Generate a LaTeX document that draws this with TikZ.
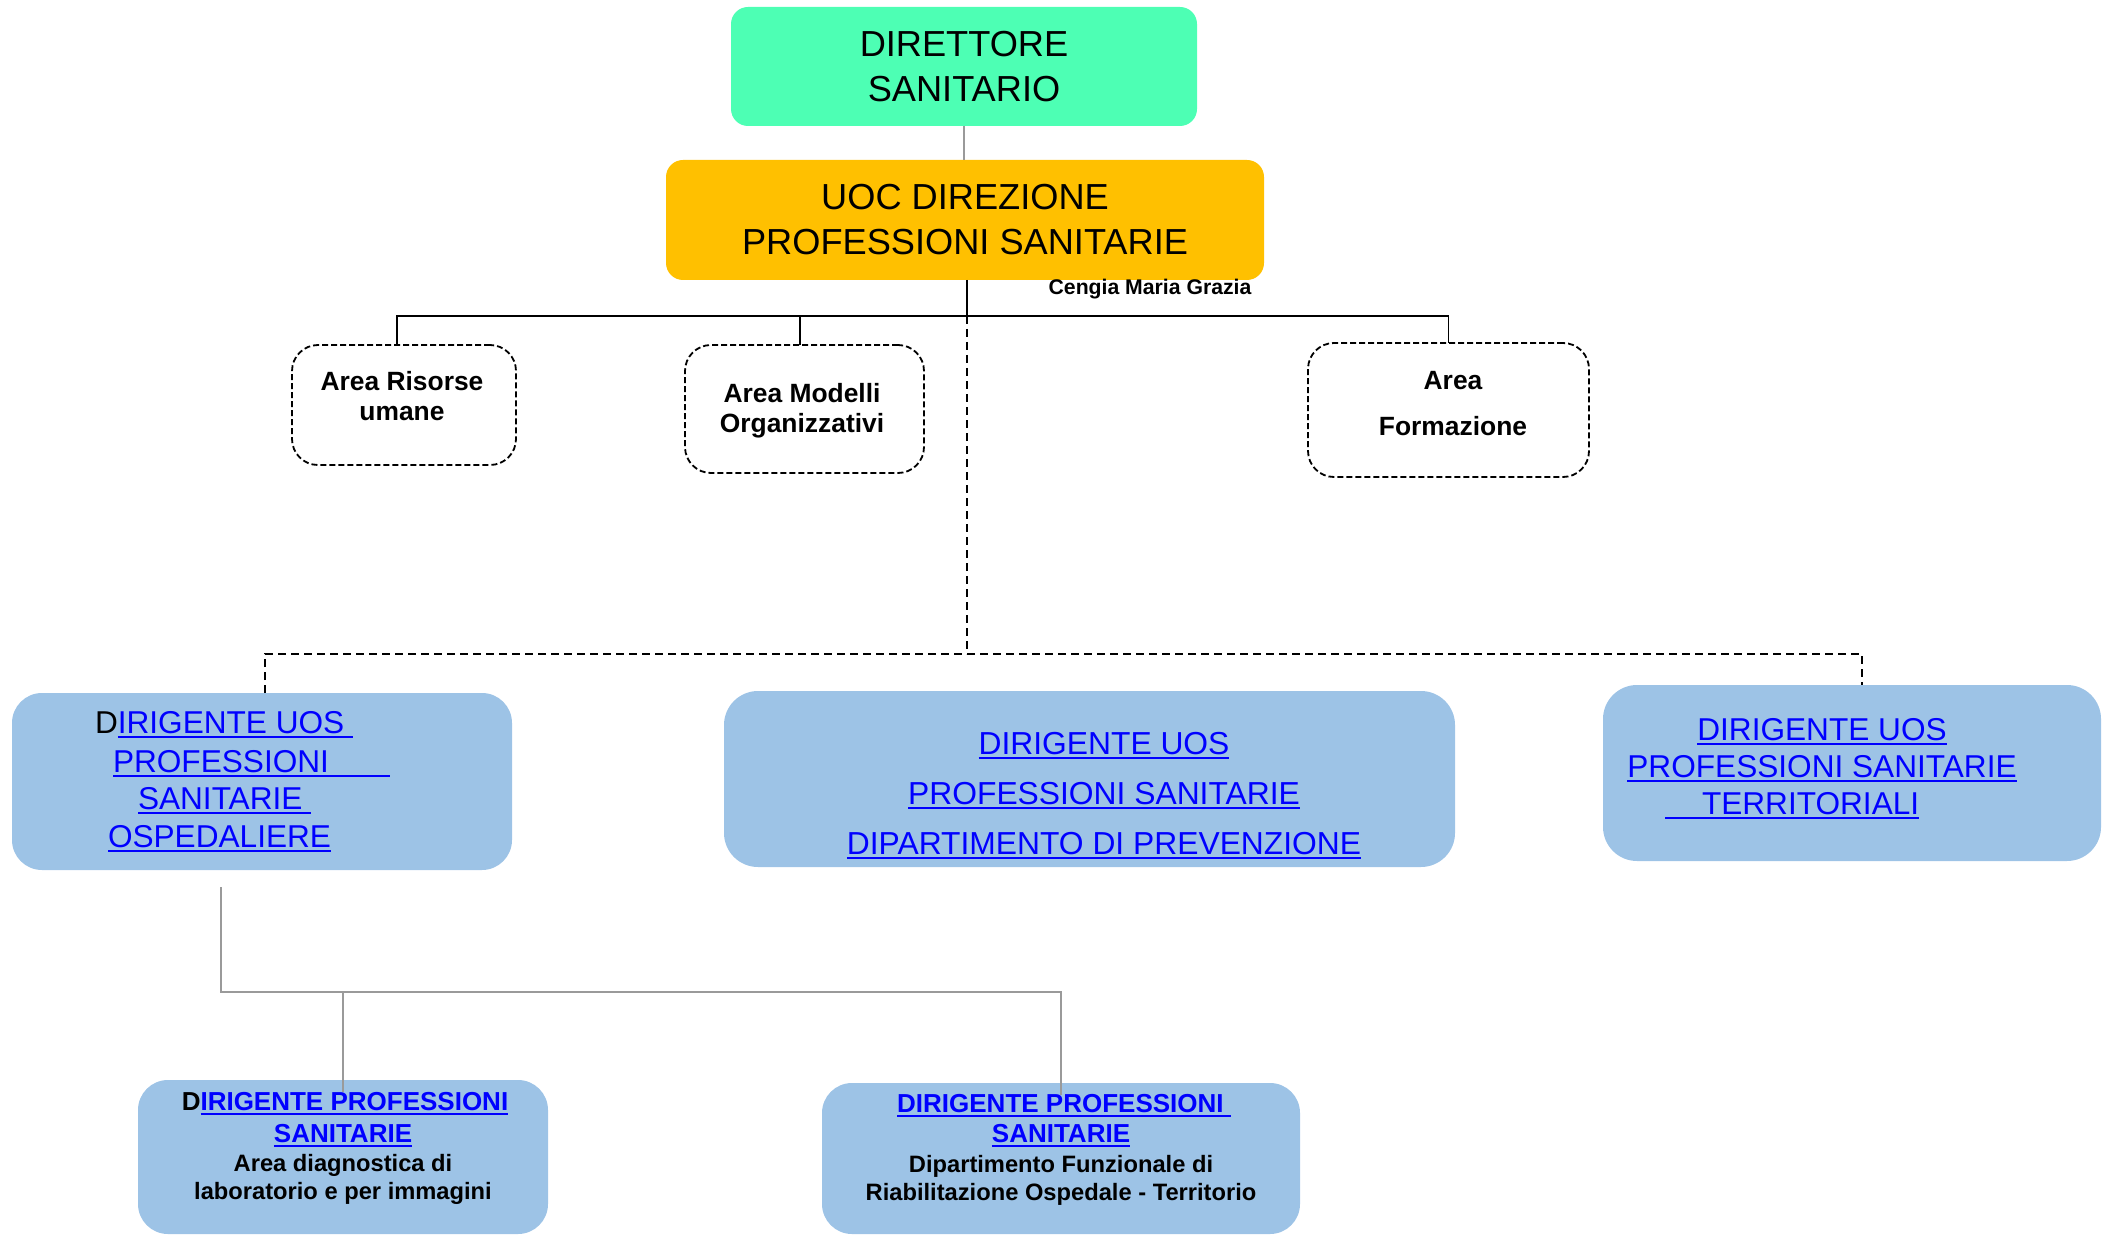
\documentclass[tikz,border=0pt]{standalone}
\usepackage{fontspec}
\setmainfont{Liberation Sans}

\definecolor{dirgreen}{HTML}{4DFFB4}
\definecolor{uocorange}{HTML}{FFC000}
\definecolor{uosblue}{HTML}{9DC3E6}
\definecolor{linkblue}{HTML}{0000FF}
\definecolor{wiregray}{HTML}{9A9A9A}

% blue underlined "link" text; the underline covers the whole box, spaces included
\newcommand\ulink[1]{{\color{linkblue}\setbox0\hbox{#1}\rlap{\rule[-2.6pt]{\wd0}{1.3pt}}\box0}}

\newcommand\fsTop{\fontsize{18.1}{22}\selectfont}
\newcommand\fsUos{\fontsize{15.8}{19}\selectfont}
\newcommand\fsPrev{\fontsize{15.9}{19}\selectfont}
\newcommand\fsArea{\bfseries\fontsize{13.2}{16}\selectfont}
\newcommand\fsName{\bfseries\fontsize{10.6}{13}\selectfont}
\newcommand\fsDir{\bfseries\fontsize{13}{15}\selectfont}
\newcommand\fsSub{\bfseries\fontsize{11.85}{14}\selectfont}

\tikzset{
  shapebox/.style={rectangle, inner sep=0pt, outer sep=0pt},
  topbox/.style={shapebox, fill=dirgreen, rounded corners=8.5pt},
  uocbox/.style={shapebox, fill=uocorange, rounded corners=8.5pt},
  areabox/.style={shapebox, draw=black, line width=0.9pt, dash pattern=on 3pt off 1.5pt, rounded corners=13pt},
  uosbox/.style={shapebox, fill=uosblue, rounded corners=15pt},
  txt/.style={inner sep=0pt, outer sep=0pt, anchor=base},
  txtl/.style={inner sep=0pt, outer sep=0pt, anchor=base west},
  orgline/.style={draw=black, line width=0.9pt},
  dashline/.style={draw=black, line width=0.9pt, dash pattern=on 4pt off 2.5pt},
  grayline/.style={draw=wiregray, line width=0.9pt},
}

\begin{document}
\begin{tikzpicture}[x=0.5pt, y=-0.5pt]
\useasboundingbox (0,0) rectangle (2102,1235);

% ---------- boxes ----------
\node[topbox, minimum width=233pt, minimum height=59.5pt] (dir) at (964,66.5) {};
\node[uocbox, minimum width=299pt, minimum height=60pt] (uoc) at (965,220) {};

\node[areabox, minimum width=112pt, minimum height=60pt] (ru) at (404,405) {};
\node[areabox, minimum width=119.5pt, minimum height=64pt] (mo) at (804.5,409) {};
\node[areabox, minimum width=140.5pt, minimum height=67pt] (fo) at (1448.5,410) {};

\node[uosbox, minimum width=250pt, minimum height=88.5pt] (osp) at (262,781.5) {};
\node[uosbox, minimum width=365.5pt, minimum height=88pt, rounded corners=17pt] (prev) at (1089.5,779) {};
\node[uosbox, minimum width=249pt, minimum height=88pt, rounded corners=17pt] (terr) at (1852,773) {};

\node[uosbox, minimum width=205pt, minimum height=77pt] (diag) at (343,1157) {};
\node[uosbox, minimum width=239pt, minimum height=75.5pt] (riab) at (1061,1158.5) {};

% ---------- connectors ----------
\coordinate (hub) at (967,316);
\coordinate (hubdown) at (967,654);
\coordinate (ospout) at (221,887);
\coordinate (ospbus) at (221,992);

\draw[grayline] (dir.south) -- (dir.south |- uoc.north);
\draw[orgline] (hub |- uoc.south) -- (hub);
\draw[orgline] ([xshift=-3.5pt]ru.north) -- ++(0,-29) -| (fo.north);
\draw[orgline] ([xshift=-2.25pt]mo.north) -- ++(0,-29);
\draw[dashline] (hub) -- (hubdown);
\draw[dashline] ([xshift=1.5pt]osp.north) -- ++(0,-39) -| ([xshift=5pt]terr.north);
\draw[grayline] (ospout) -- (ospbus) -| ([yshift=-6pt]riab.north);
\draw[grayline] (diag.north |- ospbus) -- ([yshift=-6pt]diag.north);

% ---------- texts ----------
\node[txt, font=\fsTop] (dir1) at (964,57) {DIRETTORE};
\node[txt, font=\fsTop] (dir2) at (964,102) {SANITARIO};
\node[txt, font=\fsTop] (uoc1) at (965,210) {UOC DIREZIONE};
\node[txt, font=\fsTop] (uoc2) at (965,255) {PROFESSIONI SANITARIE};
\node[txt, font=\fsName] (name) at (1150,295) {Cengia Maria Grazia};

\node[txt, font=\fsArea] (ru1) at (402,390) {Area Risorse};
\node[txt, font=\fsArea] (ru2) at (402,420) {umane};
\node[txt, font=\fsArea] (mo1) at (802,402) {Area Modelli};
\node[txt, font=\fsArea] (mo2) at (802,432) {Organizzativi};
\node[txt, font=\fsArea] (fo1) at (1453,389) {Area};
\node[txt, font=\fsArea] (fo2) at (1453,435) {Formazione};

\node[txtl, font=\fsUos] (osp1) at (95,733) {D\ulink{IRIGENTE UOS\ }};
\node[txtl, font=\fsUos] (osp2) at (113,772) {\ulink{PROFESSIONI\hspace{30.5pt}}};
\node[txtl, font=\fsUos] (osp3) at (138,809) {\ulink{SANITARIE\ }};
\node[txtl, font=\fsUos] (osp4) at (108,847) {\ulink{OSPEDALIERE}};

\node[txt, font=\fsPrev] (prev1) at (1104,754) {\ulink{DIRIGENTE UOS}};
\node[txt, font=\fsPrev] (prev2) at (1104,804) {\ulink{PROFESSIONI SANITARIE}};
\node[txt, font=\fsPrev] (prev3) at (1104,854) {\ulink{DIPARTIMENTO DI PREVENZIONE}};

\node[txt, font=\fsUos] (terr1) at (1822,740) {\ulink{DIRIGENTE UOS}};
\node[txt, font=\fsUos] (terr2) at (1822,777) {\ulink{PROFESSIONI SANITARIE}};
\node[txtl, font=\fsUos] (terr3) at (1665,814) {\ulink{\hspace{18.5pt}TERRITORIALI}};

\node[txt, font=\fsDir] (diag1) at (345,1110) {D\ulink{IRIGENTE PROFESSIONI}};
\node[txt, font=\fsDir] (diag2) at (343,1142) {\ulink{SANITARIE}};
\node[txt, font=\fsSub] (diag3) at (343,1171) {Area diagnostica di};
\node[txt, font=\fsSub] (diag4) at (343,1199) {laboratorio e per immagini};

\node[txt, font=\fsDir] (riab1) at (1064,1112) {\ulink{DIRIGENTE PROFESSIONI\ }};
\node[txt, font=\fsDir] (riab2) at (1061,1142) {\ulink{SANITARIE}};
\node[txt, font=\fsSub] (riab3) at (1061,1172) {Dipartimento Funzionale di};
\node[txt, font=\fsSub] (riab4) at (1061,1200) {Riabilitazione Ospedale - Territorio};
\end{tikzpicture}
\end{document}
